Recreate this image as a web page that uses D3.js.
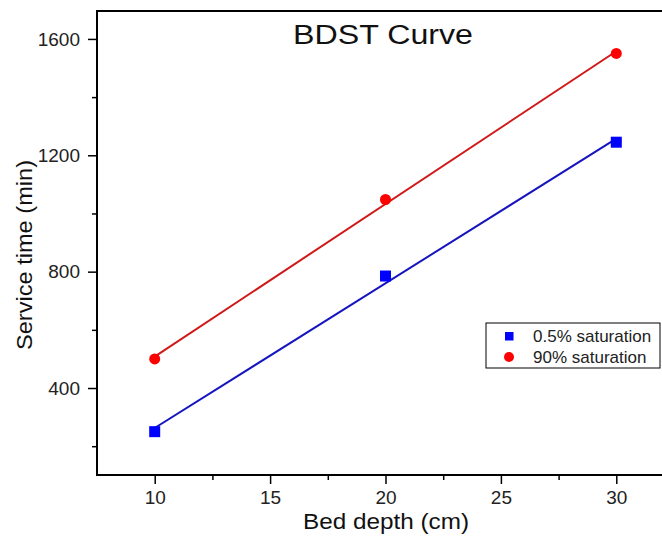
<!DOCTYPE html>
<html>
<head>
<meta charset="utf-8">
<script src="https://cdn.jsdelivr.net/npm/d3@7"></script>
<style>
  body { margin: 0; background: #fff; }
  svg { font-family: Arial, "Liberation Sans", sans-serif; }
</style>
</head>
<body>
<svg id="chart"></svg>
<script>
// data
const bedDepth = [10, 20, 30];
const lowSat = [250, 785, 1245];   // 0.5% saturation
const highSat = [500, 1048, 1550]; // 90% saturation
const xTicks = [10, 15, 20, 25, 30];
const yTicks = [400, 800, 1200, 1600];
const seriesNames = ["0.5% saturation", "90% saturation"];

const width = 662;
const height = 537;
const margin = { top: 11, right: -12, bottom: 62, left: 97 };

const svg = d3.select("#chart").attr("width", width).attr("height", height);

const x = d3.scaleLinear().domain([7.5, 32.5]).range([margin.left, width - margin.right]);
const y = d3.scaleLinear().domain([101, 1696]).range([height - margin.bottom, margin.top]);

// linear fit for each series
function fit(xs, ys) {
  const mx = d3.mean(xs), my = d3.mean(ys);
  const b = d3.sum(xs, (v, i) => (v - mx) * (ys[i] - my)) / d3.sum(xs, v => (v - mx) ** 2);
  const a = my - b * mx;
  return d3.extent(xs).map(v => ({ x: v, y: a + b * v }));
}

// frame
svg.append("rect")
  .attr("x", x(7.5)).attr("y", y(1696))
  .attr("width", x(32.5) - x(7.5)).attr("height", y(101) - y(1696))
  .attr("fill", "none").attr("stroke", "#000").attr("stroke-width", 2);

// x axis
const xAxis = svg.append("g")
  .attr("transform", `translate(0,${y(101)})`)
  .call(d3.axisBottom(x).tickValues(xTicks).tickSize(9).tickPadding(7).tickSizeOuter(0).tickFormat(d3.format("d")));
xAxis.select(".domain").remove();
xAxis.selectAll("line").attr("stroke-width", 1.5);
xAxis.selectAll("text").attr("font-size", 19).attr("fill", "#222").attr("font-family", "Arial, 'Liberation Sans', sans-serif");
svg.append("g")
  .attr("transform", `translate(0,${y(101)})`)
  .call(d3.axisBottom(x).tickValues([12.5, 17.5, 22.5, 27.5]).tickSize(5).tickFormat(""))
  .call(g => g.select(".domain").remove())
  .selectAll("line").attr("stroke-width", 1.5);

// y axis
const yAxis = svg.append("g")
  .attr("transform", `translate(${x(7.5)},0)`)
  .call(d3.axisLeft(y).tickValues(yTicks).tickSize(9).tickPadding(8).tickSizeOuter(0).tickFormat(d3.format("d")));
yAxis.select(".domain").remove();
yAxis.selectAll("line").attr("stroke-width", 1.5);
yAxis.selectAll("text").attr("font-size", 19).attr("fill", "#222").attr("font-family", "Arial, 'Liberation Sans', sans-serif");
svg.append("g")
  .attr("transform", `translate(${x(7.5)},0)`)
  .call(d3.axisLeft(y).tickValues([200, 600, 1000, 1400]).tickSize(5).tickFormat(""))
  .call(g => g.select(".domain").remove())
  .selectAll("line").attr("stroke-width", 1.5);

// axis labels
svg.append("text")
  .attr("x", 303).attr("y", 529)
  .attr("font-size", 22).attr("fill", "#111")
  .attr("textLength", 166).attr("lengthAdjust", "spacingAndGlyphs")
  .text("Bed depth (cm)");
svg.append("text")
  .attr("transform", "translate(32,350) rotate(-90)")
  .attr("font-size", 22).attr("fill", "#111")
  .attr("textLength", 190).attr("lengthAdjust", "spacingAndGlyphs")
  .text("Service time (min)");

// title
svg.append("text")
  .attr("x", 293).attr("y", 44)
  .attr("font-size", 27).attr("fill", "#111")
  .attr("textLength", 180).attr("lengthAdjust", "spacingAndGlyphs")
  .text("BDST Curve");

const line = d3.line().x(d => x(d.x)).y(d => y(d.y));

// fit lines
svg.append("path").datum(fit(bedDepth, highSat))
  .attr("fill", "none").attr("stroke", "#d01818").attr("stroke-width", 2).attr("d", line);
svg.append("path").datum(fit(bedDepth, lowSat))
  .attr("fill", "none").attr("stroke", "#1515c0").attr("stroke-width", 2).attr("d", line);

// markers
svg.selectAll(".sq").data(bedDepth).join("rect")
  .attr("x", (d) => x(d) - 5.5).attr("y", (d, i) => y(lowSat[i]) - 5.5)
  .attr("width", 11).attr("height", 11).attr("fill", "#0000ff");
svg.selectAll(".ci").data(bedDepth).join("circle")
  .attr("cx", (d) => x(d)).attr("cy", (d, i) => y(highSat[i]))
  .attr("r", 5.5).attr("fill", "#ff0000");

// legend
const legend = svg.append("g").attr("transform", "translate(486,323)");
legend.append("rect").attr("width", 174).attr("height", 45)
  .attr("fill", "#fff").attr("stroke", "#000").attr("stroke-width", 1);
legend.append("rect").attr("x", 19).attr("y", 9).attr("width", 8.5).attr("height", 8.5).attr("fill", "#0000ff");
legend.append("circle").attr("cx", 23).attr("cy", 34).attr("r", 5).attr("fill", "#ff0000");
legend.selectAll(".lt").data(seriesNames).join("text")
  .attr("x", 47).attr("y", (d, i) => 19 + i * 20.5)
  .attr("font-size", 17).attr("fill", "#222")
  .text(d => d);
</script>
</body>
</html>
